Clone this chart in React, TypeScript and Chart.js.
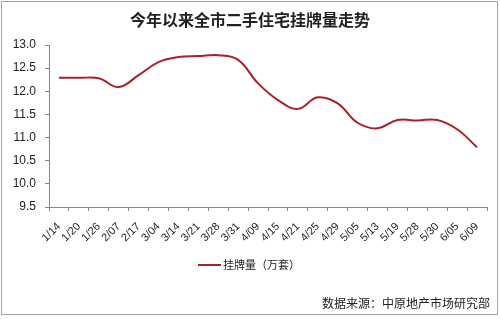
import React, { useEffect, useRef } from "react";
import { Chart, registerables } from "chart.js";

Chart.register(...registerables);

const title = "今年以来全市二手住宅挂牌量走势";
const seriesName = "挂牌量（万套）";
const sourceText = "数据来源：中原地产市场研究部";
const categories = [
  "1/14", "1/20", "1/26", "2/07", "2/17", "3/04", "3/14", "3/21", "3/28", "3/31", "4/09",
  "4/15", "4/21", "4/25", "4/29", "5/05", "5/13", "5/19", "5/28", "5/30", "6/05", "6/09",
];
const listings = [
  12.29, 12.29, 12.28, 12.09, 12.35, 12.63, 12.74, 12.76, 12.78, 12.68, 12.17,
  11.81, 11.62, 11.87, 11.74, 11.32, 11.2, 11.38, 11.37, 11.38, 11.18, 10.79,
];
const yMin = 9.5;
const yMax = 13.0;
const yStep = 0.5;

const LINE_COLOR = "#A82228";
const TEXT_COLOR = "#222222";
const AXIS_COLOR = "#868686";

const extras = {
  id: "extras",
  afterDraw(chart: any) {
    const ctx = chart.ctx;
    ctx.save();
    // border
    ctx.strokeStyle = "#A0A0A0";
    ctx.lineWidth = 1;
    ctx.strokeRect(1.5, 1.5, 496, 313);
    // title
    ctx.fillStyle = TEXT_COLOR;
    ctx.font = "bold 16px 'Noto Sans CJK SC', sans-serif";
    ctx.textAlign = "center";
    ctx.textBaseline = "middle";
    ctx.fillText(title, 250, 20);
    // legend
    ctx.strokeStyle = LINE_COLOR;
    ctx.lineWidth = 2;
    ctx.beginPath();
    ctx.moveTo(198, 265);
    ctx.lineTo(221, 265);
    ctx.stroke();
    ctx.font = "11px 'Noto Sans CJK SC', sans-serif";
    ctx.textAlign = "left";
    ctx.fillText(seriesName, 223, 265);
    // source
    ctx.font = "12px 'Noto Sans CJK SC', sans-serif";
    ctx.textAlign = "right";
    ctx.fillText(sourceText, 490, 303);
    ctx.restore();
  },
};

export default function App() {
  const ref = useRef<HTMLCanvasElement>(null);
  useEffect(() => {
    document.body.style.margin = "0";
    const chart = new Chart(ref.current!, {
      type: "line",
      data: {
        labels: categories,
        datasets: [
          {
            label: seriesName,
            data: listings,
            borderColor: LINE_COLOR,
            backgroundColor: LINE_COLOR,
            borderWidth: 2,
            pointRadius: 0,
            tension: 0.4,
            fill: false,
          },
        ],
      },
      options: {
        animation: false,
        responsive: false,
        maintainAspectRatio: false,
        layout: { padding: { left: 0, top: 45, right: 13, bottom: 0 } },
        plugins: {
          legend: { display: false },
          title: { display: false },
          tooltip: { enabled: false },
        },
        scales: {
          x: {
            offset: true,
            grid: {
              offset: true,
              drawOnChartArea: false,
              drawTicks: true,
              tickLength: 4,
              color: AXIS_COLOR,
            },
            border: { color: AXIS_COLOR, width: 1 },
            ticks: {
              minRotation: 45,
              maxRotation: 45,
              autoSkip: false,
              padding: 9,
              color: TEXT_COLOR,
              font: { family: "'Liberation Sans', Arial, sans-serif", size: 11 },
            },
            afterFit(scale: any) {
              scale.height = 112;
            },
          },
          y: {
            min: yMin,
            max: yMax,
            grid: {
              drawOnChartArea: false,
              drawTicks: true,
              tickLength: 4,
              color: AXIS_COLOR,
            },
            border: { color: AXIS_COLOR, width: 1 },
            ticks: {
              stepSize: yStep,
              padding: 9,
              color: TEXT_COLOR,
              font: { family: "'Liberation Sans', Arial, sans-serif", size: 12 },
              callback: (v: any) => Number(v).toFixed(1),
            },
            afterFit(scale: any) {
              scale.width = 49;
            },
          },
        },
      },
      plugins: [extras],
    });
    return () => chart.destroy();
  }, []);
  return (
    <div style={{ position: "absolute", left: 0, top: 0, width: 500, height: 319, background: "#fff" }}>
      <canvas ref={ref} width={500} height={319} style={{ width: 500, height: 319 }} />
    </div>
  );
}
